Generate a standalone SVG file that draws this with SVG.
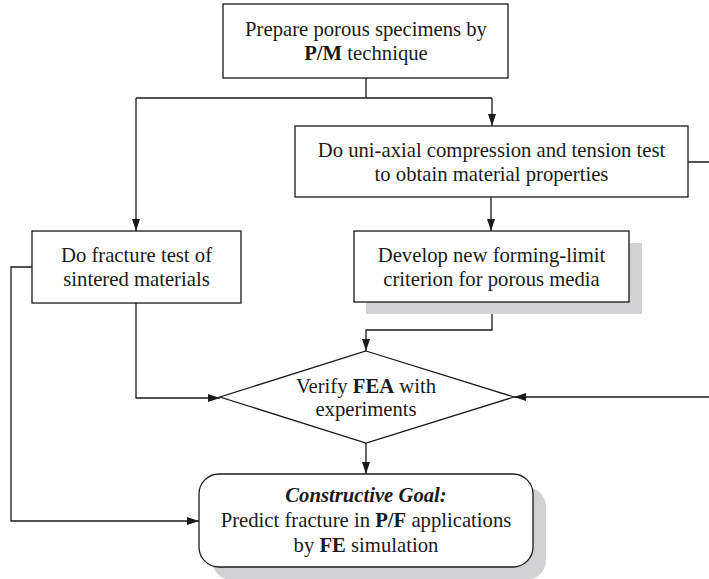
<svg xmlns="http://www.w3.org/2000/svg" width="709" height="579" viewBox="0 0 709 579">
<defs>
<marker id="ah" markerUnits="userSpaceOnUse" markerWidth="12" markerHeight="10" viewBox="0 0 12 10" refX="12" refY="5" orient="auto">
<path d="M0,1 L12,5 L0,9 Z" fill="#1a1a1a"/>
</marker>
</defs>
<style>
.box{fill:#fff;stroke:#1a1a1a;stroke-width:1.3}
.shadow{fill:#d2d2d4}
.t{font-family:"Liberation Serif","Times New Roman",serif;font-size:20.7px;fill:#1a1a1a;text-anchor:middle}
.b{font-weight:bold}
.i{font-style:italic;font-weight:bold}
.c{fill:none;stroke:#1a1a1a;stroke-width:1.3}
</style>
<g id="connectors">
<path class="c" d="M366,78 V98"/>
<path class="c" d="M136,98 H492"/>
<path class="c" d="M136,98 V231" marker-end="url(#ah)"/>
<path class="c" d="M492,98 V126" marker-end="url(#ah)"/>
<path class="c" d="M491,197 V231" marker-end="url(#ah)"/>
<path class="c" d="M688,162 H710 V397 H514" marker-end="url(#ah)"/>
<path class="c" d="M492,302 V330 H366 V351" marker-end="url(#ah)"/>
<path class="c" d="M136,303 V398 H220" marker-end="url(#ah)"/>
<path class="c" d="M32,267 H11 V521 H199" marker-end="url(#ah)"/>
<path class="c" d="M366,443 V474" marker-end="url(#ah)"/>
</g>
<g id="prepare">
<rect class="box" x="223" y="4" width="285" height="74"/>
<text class="t" x="366" y="36">Prepare porous specimens by</text>
<text class="t" x="366" y="60"><tspan class="b">P/M</tspan> technique</text>
</g>
<g id="uniaxial">
<rect class="box" x="295" y="126" width="393" height="71"/>
<text class="t" x="491.5" y="157">Do uni-axial compression and tension test</text>
<text class="t" x="491.5" y="181">to obtain material properties</text>
</g>
<g id="fracture">
<rect class="box" x="32" y="231" width="209" height="72"/>
<text class="t" x="136.5" y="262">Do fracture test of</text>
<text class="t" x="136.5" y="286">sintered materials</text>
</g>
<g id="develop">
<rect class="shadow" x="366" y="243" width="276" height="71"/>
<rect class="box" x="354" y="231" width="275" height="71"/>
<text class="t" x="491.5" y="262">Develop new forming-limit</text>
<text class="t" x="491.5" y="286">criterion for porous media</text>
</g>
<g id="verify">
<polygon class="box" points="366,351 514,397 366,443 220,397"/>
<text class="t" x="366" y="393">Verify <tspan class="b">FEA</tspan> with</text>
<text class="t" x="366" y="416">experiments</text>
</g>
<g id="goal">
<rect class="shadow" x="212" y="487" width="334" height="93" rx="20"/>
<rect class="box" x="199" y="474" width="334" height="93" rx="20"/>
<text class="t i" x="366" y="502">Constructive Goal:</text>
<text class="t" x="366" y="527">Predict fracture in <tspan class="b">P/F</tspan> applications</text>
<text class="t" x="366" y="552">by <tspan class="b">FE</tspan> simulation</text>
</g>
</svg>
